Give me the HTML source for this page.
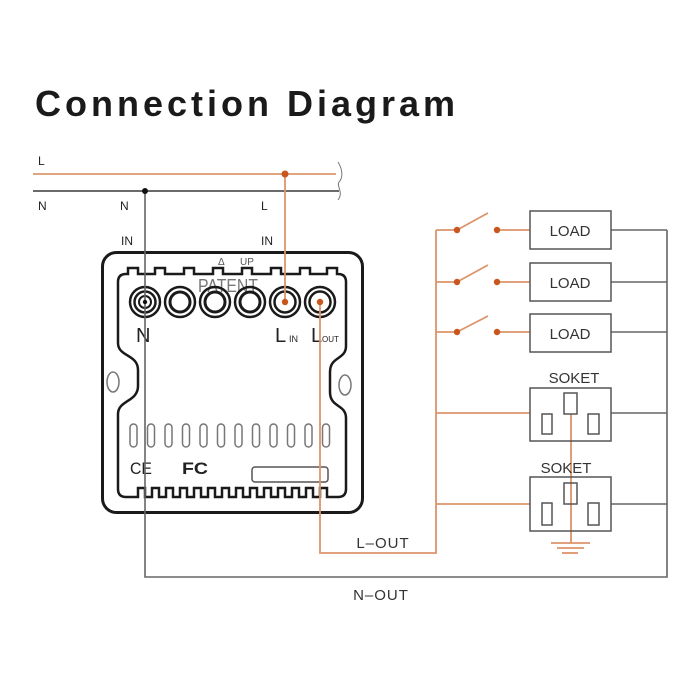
<!DOCTYPE html>
<html><head><meta charset="utf-8"><style>
html,body{margin:0;padding:0;background:#fff;}
svg{display:block;}
text{font-family:"Liberation Sans",Arial,sans-serif;}
</style></head><body>
<svg width="700" height="700" viewBox="0 0 700 700" xmlns="http://www.w3.org/2000/svg">
<rect width="700" height="700" fill="#fff"/>
<text x="35" y="116" font-size="36" font-weight="bold" letter-spacing="4" fill="#1a1a1a">Connection Diagram</text>

<!-- main lines -->
<line x1="33" y1="174" x2="336" y2="174" stroke="#d99a6c" stroke-width="1.8"/>
<line x1="33" y1="191" x2="339" y2="191" stroke="#555" stroke-width="1.8"/>
<path d="M338,162 C343,170 343,178 339,182 C336,186 344,192 338,200" fill="none" stroke="#777" stroke-width="1"/>

<g font-size="12" fill="#222">
<text x="38" y="165">L</text>
<text x="38" y="210">N</text>
<text x="120" y="210">N</text>
<text x="261" y="210">L</text>
<text x="121" y="245">IN</text>
<text x="261" y="245">IN</text>
</g>

<!-- device -->
<rect x="102.5" y="252.5" width="260" height="260" rx="14" fill="none" stroke="#1a1a1a" stroke-width="3"/>
<path d="M126,274 L126,274 L128,274 L128,268 L138,268 L138,274 L155,274 L155,268 L165,268 L165,274 L184,274 L184,268 L194,268 L194,274 L213,274 L213,268 L223,268 L223,274 L242,274 L242,268 L252,268 L252,274 L271,274 L271,268 L281,268 L281,274 L300,274 L300,268 L310,268 L310,274 L327,274 L327,268 L337,268 L337,274 L338,274 Q346,274 346,282 L346,346 C346,360 330,356 330,372 L330,392 C330,408 346,404 346,418 L346,489 Q346,497 338,497
L327,497 L327,488 L320,488 L320,497 L313,497 L313,488 L306,488 L306,497 L299,497 L299,488 L292,488 L292,497 L285,497 L285,488 L278,488 L278,497 L271,497 L271,488 L264,488 L264,497 L257,497 L257,488 L250,488 L250,497 L243,497 L243,488 L236,488 L236,497 L229,497 L229,488 L222,488 L222,497 L215,497 L215,488 L208,488 L208,497 L201,497 L201,488 L194,488 L194,497 L187,497 L187,488 L180,488 L180,497 L173,497 L173,488 L166,488 L166,497 L159,497 L159,488 L152,488 L152,497 L145,497 L145,488 L138,488 L138,497
L126,497 Q118,497 118,489 L118,414 C118,400 138,402 138,386 L138,370 C138,354 118,357 118,343 L118,282 Q118,274 126,274 Z" fill="none" stroke="#1a1a1a" stroke-width="2.5" stroke-linejoin="miter"/>
<ellipse cx="113" cy="382" rx="6" ry="10" fill="none" stroke="#777" stroke-width="1.5"/>
<ellipse cx="345" cy="385" rx="6" ry="10" fill="none" stroke="#777" stroke-width="1.5"/>

<text x="218" y="265" font-size="10" fill="#555">Δ</text>
<text x="240" y="265" font-size="10" fill="#555">UP</text>
<text x="198" y="292" font-size="18" fill="#777" textLength="60" lengthAdjust="spacingAndGlyphs">PATENT</text>

<!-- terminals -->
<g fill="none" stroke="#1a1a1a">
<circle cx="145" cy="302" r="15" stroke-width="2.5"/>
<circle cx="145" cy="302" r="10.5" stroke-width="2.5"/>
<circle cx="145" cy="302" r="6" stroke-width="2"/>
<circle cx="180" cy="302" r="15" stroke-width="2.5"/>
<circle cx="180" cy="302" r="10" stroke-width="3"/>
<circle cx="215" cy="302" r="15" stroke-width="2.5"/>
<circle cx="215" cy="302" r="10" stroke-width="3"/>
<circle cx="250" cy="302" r="15" stroke-width="2.5"/>
<circle cx="250" cy="302" r="10" stroke-width="3"/>
<circle cx="285" cy="302" r="15" stroke-width="2.5"/>
<circle cx="285" cy="302" r="10.5" stroke-width="2.5"/>
<circle cx="320" cy="302" r="15" stroke-width="2.5"/>
<circle cx="320" cy="302" r="10.5" stroke-width="2.5"/>
</g>

<text x="136" y="342" font-size="20" fill="#222">N</text>
<text x="275" y="342" font-size="20" fill="#222">L</text>
<text x="289" y="342" font-size="9" fill="#222">IN</text>
<text x="311" y="342" font-size="20" fill="#222">L</text>
<text x="322" y="342" font-size="8" fill="#222">OUT</text>

<!-- vents -->
<g fill="none" stroke="#777" stroke-width="1.5">
<rect x="130" y="424" width="7" height="23" rx="3.5"/>
<rect x="147.5" y="424" width="7" height="23" rx="3.5"/>
<rect x="165" y="424" width="7" height="23" rx="3.5"/>
<rect x="182.5" y="424" width="7" height="23" rx="3.5"/>
<rect x="200" y="424" width="7" height="23" rx="3.5"/>
<rect x="217.5" y="424" width="7" height="23" rx="3.5"/>
<rect x="235" y="424" width="7" height="23" rx="3.5"/>
<rect x="252.5" y="424" width="7" height="23" rx="3.5"/>
<rect x="270" y="424" width="7" height="23" rx="3.5"/>
<rect x="287.5" y="424" width="7" height="23" rx="3.5"/>
<rect x="305" y="424" width="7" height="23" rx="3.5"/>
<rect x="322.5" y="424" width="7" height="23" rx="3.5"/>
</g>
<text x="130" y="474" font-size="17" fill="#222" textLength="22" lengthAdjust="spacingAndGlyphs">CE</text>
<text x="182" y="474" font-size="17" font-weight="bold" fill="#222" textLength="26" lengthAdjust="spacingAndGlyphs">FC</text>
<rect x="252" y="467" width="76" height="15" rx="3" fill="none" stroke="#555" stroke-width="1.5"/>

<!-- wires -->
<polyline points="145,191 145,577 667,577 667,230" fill="none" stroke="#666" stroke-width="1.6"/>
<g stroke="#666" stroke-width="1.6">
<line x1="611" y1="230" x2="667" y2="230"/>
<line x1="611" y1="282" x2="667" y2="282"/>
<line x1="611" y1="332" x2="667" y2="332"/>
<line x1="611" y1="413" x2="667" y2="413"/>
<line x1="611" y1="504" x2="667" y2="504"/>
</g>
<g stroke="#dc946a" stroke-width="1.8" fill="none">
<line x1="285" y1="174" x2="285" y2="302"/>
<polyline points="320,302 320,553 436,553 436,230"/>
<line x1="436" y1="230" x2="457" y2="230"/>
<line x1="497" y1="230" x2="530" y2="230"/>
<line x1="457" y1="230" x2="488" y2="213"/>
<line x1="436" y1="282" x2="457" y2="282"/>
<line x1="497" y1="282" x2="530" y2="282"/>
<line x1="457" y1="282" x2="488" y2="265"/>
<line x1="436" y1="332" x2="457" y2="332"/>
<line x1="497" y1="332" x2="530" y2="332"/>
<line x1="457" y1="332" x2="488" y2="316"/>
<line x1="436" y1="413" x2="530" y2="413"/>
<line x1="436" y1="504" x2="530" y2="504"/>
<line x1="571" y1="414" x2="571" y2="543"/>
<line x1="551" y1="543" x2="590" y2="543"/>
<line x1="557" y1="548" x2="584" y2="548"/>
<line x1="562" y1="553" x2="578" y2="553"/>
</g>
<circle cx="145" cy="191" r="3" fill="#111"/>
<circle cx="145" cy="302" r="2.2" fill="#111"/>
<g fill="#c8561e">
<circle cx="285" cy="174" r="3.5"/>
<circle cx="285" cy="302" r="3.2"/>
<circle cx="320" cy="302" r="3.2"/>
<circle cx="457" cy="230" r="3.2"/><circle cx="497" cy="230" r="3.2"/>
<circle cx="457" cy="282" r="3.2"/><circle cx="497" cy="282" r="3.2"/>
<circle cx="457" cy="332" r="3.2"/><circle cx="497" cy="332" r="3.2"/>
</g>

<!-- loads -->
<g fill="none" stroke="#555" stroke-width="1.5">
<rect x="530" y="211" width="81" height="38"/>
<rect x="530" y="263" width="81" height="38"/>
<rect x="530" y="314" width="81" height="38"/>
<rect x="530" y="388" width="81" height="53"/>
<rect x="564" y="393" width="13" height="21"/>
<rect x="542" y="414" width="10" height="20"/>
<rect x="588" y="414" width="11" height="20"/>
<rect x="530" y="477" width="81" height="54"/>
<rect x="564" y="483" width="13" height="21"/>
<rect x="542" y="503" width="10" height="22"/>
<rect x="588" y="503" width="11" height="22"/>
</g>
<g font-size="15" fill="#333" text-anchor="middle">
<text x="570" y="236">LOAD</text>
<text x="570" y="288">LOAD</text>
<text x="570" y="339">LOAD</text>
<text x="574" y="383">SOKET</text>
<text x="566" y="473">SOKET</text>
<text x="383" y="548" letter-spacing="1">L–OUT</text>
<text x="381" y="600" letter-spacing="1">N–OUT</text>
</g>
</svg>
</body></html>
